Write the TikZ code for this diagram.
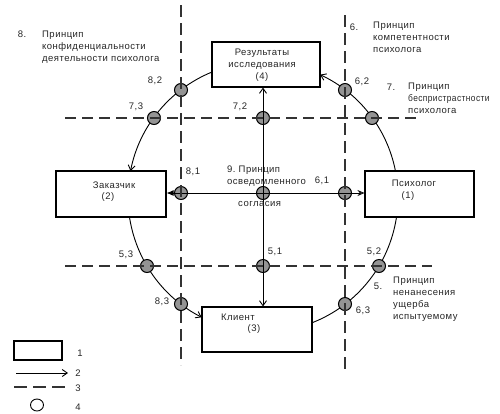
\documentclass[tikz,border=0pt]{standalone}
\usepackage{fontspec}
\setmainfont{Liberation Sans}
\newfontfamily\lblfont[LetterSpace=5]{Liberation Sans}
\usetikzlibrary{arrows.meta,shapes.geometric}
\newcommand\lblsz{\lblfont\fontsize{9.5}{12}\selectfont}
\begin{document}
\begin{tikzpicture}[x=1pt,y=-1pt,
  txt/.style={font=\lblsz, inner sep=0pt, text=black!85},
  blk/.style={txt, anchor=north west, align=left},
  box/.style={draw=black, line width=1.1pt, fill=white, inner sep=0pt},
  vdash/.style={draw=black!80, line width=2pt, dash pattern=on 12pt off 6pt},
  hdash/.style={draw=black!80, line width=1.6pt, dash pattern=on 11pt off 6pt},
  arcline/.style={line width=0.9pt},
  tip/.style={-{Straight Barb[length=5pt,width=7pt]}},
  ptc/.style={circle, draw=black, line width=1pt, fill=black!42, minimum size=13pt, inner sep=0pt},
]
\useasboundingbox (0,0) rectangle (500,413);
\coordinate (O) at (263,197);
\coordinate (o) at (263,193);

% arcs of the big circle
\draw[arcline, tip] ([shift={(112.2:135pt)}]O) arc[start angle=112.2, end angle=168.9, radius=135pt];
\draw[arcline, tip] ([shift={(188.5:135pt)}]O) arc[start angle=188.5, end angle=243, radius=135pt];
\draw[arcline] ([shift={(291.3:135pt)}]O) arc[start angle=291.3, end angle=351.5, radius=135pt];
\draw[arcline, tip] ([shift={(11.1:135pt)}]O) arc[start angle=11.1, end angle=65, radius=135pt];

% boxes
\node[box, minimum width=108pt, minimum height=45pt] (res) at (266,64.5) {};
\node[box, minimum width=110pt, minimum height=46pt] (zak) at (111,194) {};
\node[box, minimum width=109pt, minimum height=46pt] (psy) at (419.5,194) {};
\node[box, minimum width=110pt, minimum height=45pt] (kl) at (257,329.5) {};

% small circles
\node[ptc] (p82) at (181,90) {};
\node[ptc] (p73) at (154,118) {};
\node[ptc] (p72) at (263,118) {};
\node[ptc] (p62) at (345,90) {};
\node[ptc] (p7r) at (372,118) {};
\node[ptc] (p81) at (181,193) {};
\node[ptc] (p9) at (o) {};
\node[ptc] (p61) at (345,193) {};
\node[ptc] (p53) at (147,266) {};
\node[ptc] (p51) at (263,266) {};
\node[ptc] (p52) at (379,266) {};
\node[ptc] (p83) at (181,304) {};
\node[ptc] (p63) at (345,304) {};

% straight arrows from the centre
\draw[arcline, tip] (o) -- (o |- res.south);
\draw[arcline, tip] (o) -- (o |- kl.north);
\draw[arcline, -{Latex[length=7pt,width=6pt]}] (o) -- (o -| zak.east);
\draw[arcline, -{Stealth[open,length=7pt,width=6pt]}] (o) -- (o -| psy.west);

% dashed lines
\coordinate (v1t) at (181,5);  \coordinate (v1b) at (181,365);
\coordinate (v2t) at (345,15); \coordinate (v2b) at (345,372);
\coordinate (h1l) at (65,118); \coordinate (h1r) at (422,118);
\coordinate (h2l) at (65,266); \coordinate (h2r) at (432,266);
\draw[vdash] (v1t) -- (v1b);
\draw[vdash] (v2t) -- (v2b);
\draw[hdash] (h1l) -- (h1r);
\draw[hdash] (h2l) -- (h2r);

% box texts
\node[txt, align=center] (tres) at (262,65) {Результаты\\исследования\\(4)};
\node[txt] (tzak) at (114,185) {Заказчик};
\node[txt] (tzak2) at (108,197) {(2)};
\node[txt] (tpsy) at (414,183) {Психолог};
\node[txt] (tpsy2) at (408,196) {(1)};
\node[txt] (tkl) at (238,317) {Клиент};
\node[txt] (tkl2) at (254,329) {(3)};

% principle texts
\node[txt] (n8) at (22,34) {8.};
\node[blk] (b8) at (42,31) {Принцип\\конфиденциальности\\деятельности психолога};
\node[txt] (n6) at (354,27) {6.};
\node[blk] (b6) at (373,22) {Принцип\\компетентности\\психолога};
\node[txt] (n7) at (391,87) {7.};
\node[blk] (b7) at (408,83) {Принцип\\\scalebox{0.88}[1]{беспристрастности}\\психолога};
\node[blk] (b9) at (227,166) {9.\ Принцип\\осведомленного};
\node[txt, anchor=west] (b9c) at (238,204) {согласия};
\node[txt] (n5) at (378,286) {5.};
\node[blk] (b5) at (393,277) {Принцип\\ненанесения\\ущерба\\испытуемому};

% point labels
\node[txt] (l82) at (155,81) {8,2};
\node[txt] (l73) at (136,107) {7,3};
\node[txt] (l72) at (240,107) {7,2};
\node[txt] (l62) at (362,82) {6,2};
\node[txt] (l81) at (193,172) {8,1};
\node[txt] (l61) at (322,181) {6,1};
\node[txt] (l53) at (126,255) {5,3};
\node[txt] (l51) at (275,252) {5,1};
\node[txt] (l52) at (374,252) {5,2};
\node[txt] (l83) at (162,302) {8,3};
\node[txt] (l63) at (363,311) {6,3};

% legend
\node[box, minimum width=48pt, minimum height=19pt] (lg1) at (38,350.5) {};
\coordinate (lg2a) at (16,373); \coordinate (lg2b) at (68,373);
\draw[arcline, tip] (lg2a) -- (lg2b);
\coordinate (lg3a) at (14,387); \coordinate (lg3b) at (65,387);
\draw[hdash, dash pattern=on 13pt off 6pt] (lg3a) -- (lg3b);
\node[ellipse, draw=black, line width=0.9pt, minimum width=13pt, minimum height=12pt, inner sep=0pt] (lg4) at (37,405) {};
\node[txt] (g1) at (80,353) {1};
\node[txt] (g2) at (78,373) {2};
\node[txt] (g3) at (78,388) {3};
\node[txt] (g4) at (78,407) {4};
\end{tikzpicture}
\end{document}
